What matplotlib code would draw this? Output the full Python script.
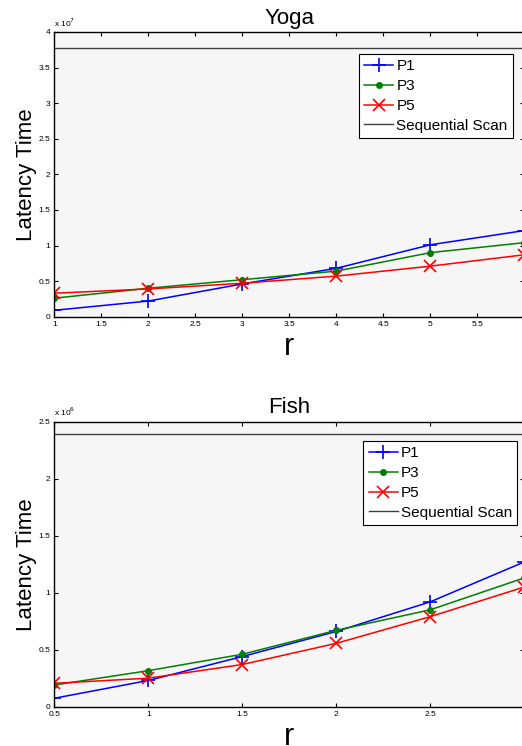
import matplotlib
matplotlib.use('Agg')
import matplotlib.pyplot as plt
from matplotlib.ticker import FuncFormatter, MultipleLocator

plt.rcParams['font.family'] = ['Liberation Sans', 'DejaVu Sans']

# Yoga dataset (latency, raw units)
yoga_r = [1, 2, 3, 4, 5, 6]
yoga_p1 = [0.09e7, 0.22e7, 0.46e7, 0.68e7, 1.01e7, 1.21e7]
yoga_p3 = [0.26e7, 0.40e7, 0.52e7, 0.64e7, 0.90e7, 1.04e7]
yoga_p5 = [0.33e7, 0.39e7, 0.47e7, 0.57e7, 0.71e7, 0.87e7]
yoga_seq = 3.775e7

# Fish dataset
fish_r = [0.5, 1, 1.5, 2, 2.5, 3]
fish_p1 = [0.074e6, 0.23e6, 0.44e6, 0.66e6, 0.92e6, 1.27e6]
fish_p3 = [0.19e6, 0.316e6, 0.46e6, 0.67e6, 0.85e6, 1.13e6]
fish_p5 = [0.205e6, 0.25e6, 0.37e6, 0.556e6, 0.79e6, 1.05e6]
fish_seq = 2.39e6

W, H = 522, 746
fig = plt.figure(figsize=(W/100, H/100), dpi=100)

def panel(rect, title, r, p1, p3, p5, seq, ylim, ystep, exp, leg_anchor):
    ax = fig.add_axes(rect)
    ax.set_facecolor('#f6f6f6')
    ax.plot(r, p1, color='blue', marker='+', ms=10, mew=1.2, lw=1.1, label='P1')
    ax.plot(r, p3, color='green', marker='o', ms=4, lw=1.1, label='P3')
    ax.plot(r, p5, color='red', marker='x', ms=8, mew=1.2, lw=1.1, label='P5')
    ax.axhline(seq, color='#404040', lw=1.0, label='Sequential Scan')
    ax.set_xlim(r[0], r[-1])
    ax.set_ylim(*ylim)
    ax.xaxis.set_major_locator(MultipleLocator(0.5))
    ax.yaxis.set_major_locator(MultipleLocator(ystep))
    scale = 10.0 ** exp
    ax.xaxis.set_major_formatter(FuncFormatter(lambda v, p: '%g' % v))
    ax.yaxis.set_major_formatter(FuncFormatter(lambda v, p: '%g' % (v / scale)))
    ax.tick_params(direction='in', length=3, width=0.8, labelsize=6,
                   top=True, right=True, pad=3)
    for s in ax.spines.values():
        s.set_linewidth(1.0)
    ax.text(0.0, 1.012, 'x 10$^{%d}$' % exp, transform=ax.transAxes,
            fontsize=6, ha='left', va='bottom')
    ax.set_title(title, fontsize=16, pad=6)
    ax.set_xlabel('r', fontsize=22, labelpad=3)
    ax.set_ylabel('Latency Time', fontsize=16, labelpad=1)
    leg = ax.legend(loc='upper right', bbox_to_anchor=leg_anchor, borderaxespad=0,
                    fontsize=11, fancybox=False, framealpha=1, edgecolor='black',
                    handlelength=1.9, handletextpad=0.2, labelspacing=0.38,
                    borderpad=0.35)
    leg.get_frame().set_linewidth(0.8)
    return ax

left = 54.3 / W
width = 470 / W
panel([left, 1 - 316.7/H, width, 284.7/H], 'Yoga', yoga_r, yoga_p1, yoga_p3,
      yoga_p5, yoga_seq, (0, 4e7), 0.5e7, 7, (0.976, 0.923))
panel([left, 1 - 706.7/H, width, 285/H], 'Fish', fish_r, fish_p1, fish_p3,
      fish_p5, fish_seq, (0, 2.5e6), 0.5e6, 6, (0.985, 0.932))

fig.savefig('out.png', dpi=100)
